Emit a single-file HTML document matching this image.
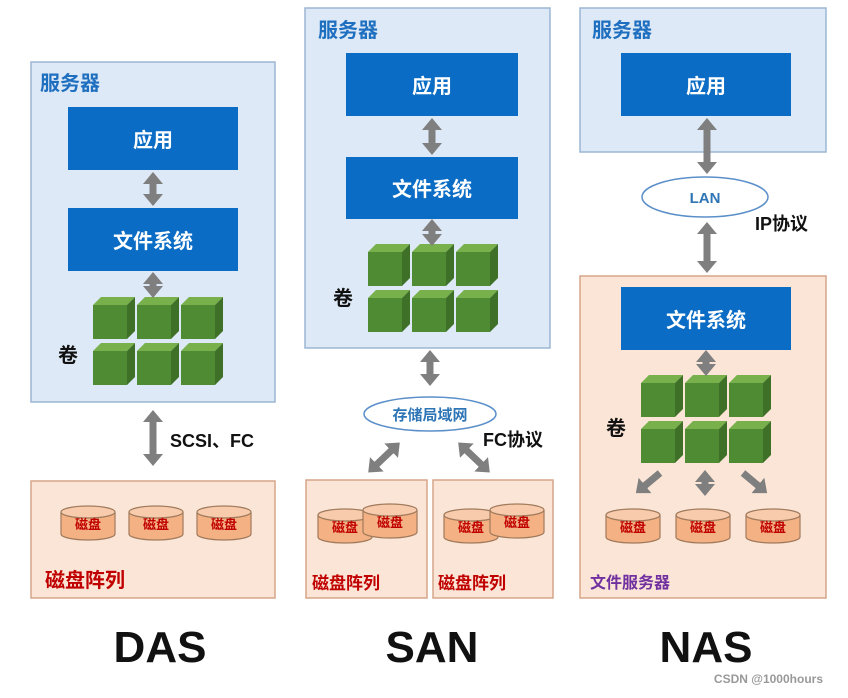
<!DOCTYPE html>
<html><head><meta charset="utf-8"><style>
html,body{margin:0;padding:0;background:#fff;}
text{font-family:"Liberation Sans","Noto Sans CJK SC",sans-serif;font-weight:bold;}
</style></head><body>
<svg width="848" height="693" viewBox="0 0 848 693" xmlns="http://www.w3.org/2000/svg">
<defs>
<marker id="ah" markerUnits="userSpaceOnUse" markerWidth="20" markerHeight="20" refX="4" refY="10" orient="auto-start-reverse">
<path d="M0,0 L12,10 L0,20 Z" fill="#7f7f7f"/>
</marker>
<g id="cube">
<polygon points="0,8 8,0 42,0 34,8" fill="#78b04c"/>
<polygon points="34,8 42,0 42,34 34,42" fill="#3e7027"/>
<rect x="0" y="8" width="34" height="34" fill="#4f8b33"/>
</g>
<g id="cubes">
<use href="#cube" x="0" y="0"/><use href="#cube" x="44" y="0"/><use href="#cube" x="88" y="0"/>
<use href="#cube" x="0" y="46"/><use href="#cube" x="44" y="46"/><use href="#cube" x="88" y="46"/>
</g>
<g id="disk">
<path d="M-27,-8 L-27,14 A27,6 0 0 0 27,14 L27,-8" fill="#f4b183" stroke="#a07a5c" stroke-width="1.2"/>
<ellipse cx="0" cy="-8" rx="27" ry="6" fill="#f8cbad" stroke="#a07a5c" stroke-width="1.2"/>
<text x="0" y="9" font-size="13" fill="#c00000" text-anchor="middle">磁盘</text>
</g>
</defs>
<rect width="848" height="693" fill="#fff"/>

<!-- DAS -->
<rect x="31" y="62" width="244" height="340" fill="#dde9f6" stroke="#9cb6d4" stroke-width="1.5"/>
<text x="40" y="90" font-size="20" fill="#1f6fc0">服务器</text>
<rect x="68" y="107" width="170" height="63" fill="#0a6cc4"/>
<text x="153" y="147" font-size="20" fill="#fff" text-anchor="middle">应用</text>
<rect x="68" y="208" width="170" height="63" fill="#0a6cc4"/>
<text x="153" y="248" font-size="20" fill="#fff" text-anchor="middle">文件系统</text>
<use href="#cubes" x="93" y="297"/>
<text x="58" y="362" font-size="20" fill="#111">卷</text>
<line x1="153" y1="180" x2="153" y2="198" stroke="#7f7f7f" stroke-width="7" marker-start="url(#ah)" marker-end="url(#ah)"/>
<line x1="153" y1="280" x2="153" y2="290" stroke="#7f7f7f" stroke-width="7" marker-start="url(#ah)" marker-end="url(#ah)"/>
<line x1="153" y1="418" x2="153" y2="458" stroke="#7f7f7f" stroke-width="7" marker-start="url(#ah)" marker-end="url(#ah)"/>
<text x="170" y="447" font-size="18" fill="#111">SCSI、FC</text>
<rect x="31" y="481" width="244" height="117" fill="#fbe5d6" stroke="#d6a58a" stroke-width="1.5"/>
<use href="#disk" x="88" y="520"/><use href="#disk" x="156" y="520"/><use href="#disk" x="224" y="520"/>
<text x="45" y="587" font-size="20" fill="#c00000">磁盘阵列</text>
<text x="160" y="662" font-size="44" fill="#111" text-anchor="middle">DAS</text>

<!-- SAN -->
<rect x="305" y="8" width="245" height="340" fill="#dde9f6" stroke="#9cb6d4" stroke-width="1.5"/>
<text x="318" y="37" font-size="20" fill="#1f6fc0">服务器</text>
<rect x="346" y="53" width="172" height="63" fill="#0a6cc4"/>
<text x="432" y="93" font-size="20" fill="#fff" text-anchor="middle">应用</text>
<rect x="346" y="157" width="172" height="62" fill="#0a6cc4"/>
<text x="432" y="196" font-size="20" fill="#fff" text-anchor="middle">文件系统</text>
<use href="#cubes" x="368" y="244"/>
<text x="333" y="305" font-size="20" fill="#111">卷</text>
<line x1="432" y1="126" x2="432" y2="147" stroke="#7f7f7f" stroke-width="7" marker-start="url(#ah)" marker-end="url(#ah)"/>
<line x1="432" y1="227" x2="432" y2="238" stroke="#7f7f7f" stroke-width="7" marker-start="url(#ah)" marker-end="url(#ah)"/>
<line x1="430" y1="358" x2="430" y2="378" stroke="#7f7f7f" stroke-width="7" marker-start="url(#ah)" marker-end="url(#ah)"/>
<ellipse cx="430" cy="414" rx="66" ry="17" fill="#fff" stroke="#5b8fc9" stroke-width="1.5"/>
<text x="430" y="420" font-size="15" fill="#2e75b6" text-anchor="middle" font-weight="normal">存储局域网</text>
<text x="483" y="446" font-size="18" fill="#111">FC协议</text>
<line x1="394" y1="448" x2="374" y2="467" stroke="#7f7f7f" stroke-width="7" marker-start="url(#ah)" marker-end="url(#ah)"/>
<line x1="464" y1="448" x2="484" y2="467" stroke="#7f7f7f" stroke-width="7" marker-start="url(#ah)" marker-end="url(#ah)"/>
<rect x="306" y="480" width="121" height="118" fill="#fbe5d6" stroke="#d6a58a" stroke-width="1.5"/>
<rect x="433" y="480" width="120" height="118" fill="#fbe5d6" stroke="#d6a58a" stroke-width="1.5"/>
<use href="#disk" x="345" y="523"/><use href="#disk" x="390" y="518"/>
<use href="#disk" x="471" y="523"/><use href="#disk" x="517" y="518"/>
<text x="312" y="589" font-size="17" fill="#c00000">磁盘阵列</text>
<text x="438" y="589" font-size="17" fill="#c00000">磁盘阵列</text>
<text x="432" y="662" font-size="44" fill="#111" text-anchor="middle">SAN</text>

<!-- NAS -->
<rect x="580" y="8" width="246" height="144" fill="#dde9f6" stroke="#9cb6d4" stroke-width="1.5"/>
<text x="592" y="37" font-size="20" fill="#1f6fc0">服务器</text>
<rect x="621" y="53" width="170" height="63" fill="#0a6cc4"/>
<text x="706" y="93" font-size="20" fill="#fff" text-anchor="middle">应用</text>
<line x1="707" y1="126" x2="707" y2="166" stroke="#7f7f7f" stroke-width="7" marker-start="url(#ah)" marker-end="url(#ah)"/>
<ellipse cx="705" cy="197" rx="63" ry="20" fill="#fff" stroke="#5b8fc9" stroke-width="1.5"/>
<text x="705" y="203" font-size="15" fill="#2e75b6" text-anchor="middle" font-weight="normal">LAN</text>
<text x="755" y="230" font-size="18" fill="#111">IP协议</text>
<line x1="707" y1="230" x2="707" y2="265" stroke="#7f7f7f" stroke-width="7" marker-start="url(#ah)" marker-end="url(#ah)"/>
<rect x="580" y="276" width="246" height="322" fill="#fbe5d6" stroke="#d6a58a" stroke-width="1.5"/>
<rect x="621" y="287" width="170" height="63" fill="#0a6cc4"/>
<text x="706" y="327" font-size="20" fill="#fff" text-anchor="middle">文件系统</text>
<use href="#cubes" x="641" y="375"/>
<line x1="706" y1="358" x2="706" y2="368" stroke="#7f7f7f" stroke-width="7" marker-start="url(#ah)" marker-end="url(#ah)"/>
<text x="606" y="435" font-size="20" fill="#111">卷</text>
<line x1="660" y1="473" x2="642" y2="488" stroke="#7f7f7f" stroke-width="7" marker-end="url(#ah)"/>
<line x1="705" y1="478" x2="705" y2="488" stroke="#7f7f7f" stroke-width="7" marker-start="url(#ah)" marker-end="url(#ah)"/>
<line x1="743" y1="473" x2="761" y2="488" stroke="#7f7f7f" stroke-width="7" marker-end="url(#ah)"/>
<use href="#disk" x="633" y="523"/><use href="#disk" x="703" y="523"/><use href="#disk" x="773" y="523"/>
<text x="590" y="588" font-size="16" fill="#7030a0">文件服务器</text>
<text x="706" y="662" font-size="44" fill="#111" text-anchor="middle">NAS</text>

<text x="823" y="683" font-size="12" fill="#999" text-anchor="end" font-weight="normal">CSDN @1000hours</text>
</svg>
</body></html>
